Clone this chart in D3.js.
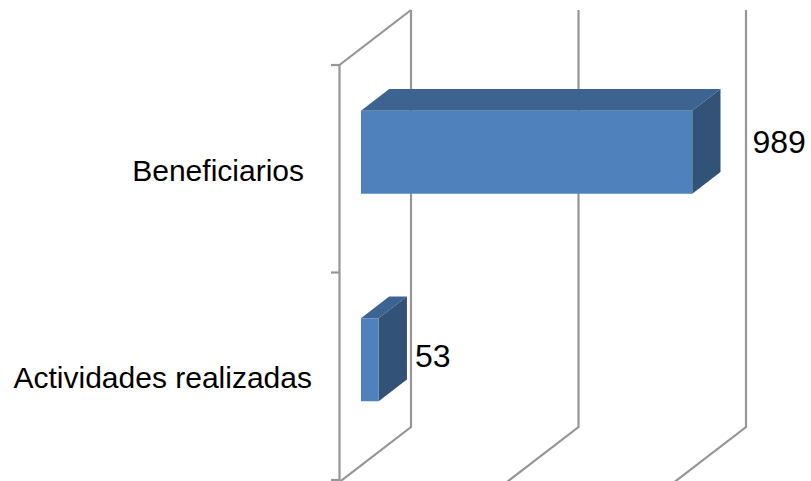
<!DOCTYPE html>
<html><head><meta charset="utf-8">
<script src="https://cdn.jsdelivr.net/npm/d3@7/dist/d3.min.js"></script>
<style>html,body{margin:0;padding:0;background:#fff}svg{display:block}text{font-family:"Liberation Sans",Arial,sans-serif;fill:#000}</style>
</head><body><svg id="c" width="811" height="481"></svg>
<script>
const categories = ["Beneficiarios", "Actividades realizadas"];
const values = [989, 53];
const axisTicks = [0, 500, 1000];
const colFront = "#4f81bd", colTop = "#3d6491", colSide = "#325277", colGrid = "#969696";

const svg = d3.select("#c");
// 3D projection: depth 0 = front plane, 1 = back wall
const depthX = 71.5, depthY = -55;
const x = d3.scaleLinear().domain([0, 1000]).range([339.5, 674.5]);
const y = d3.scaleBand().domain(categories).range([65, 480]).paddingInner(0.6).paddingOuter(0.3);
const px = (v, d) => x(v) + depthX * d;
const py = (yy, d) => yy + depthY * d;
const line = d3.line();
const grid = svg.append("g").attr("fill", "none").attr("stroke", colGrid).attr("stroke-width", 2.2);

const yTop = 65, yBot = 482;
axisTicks.forEach(t => {
  grid.append("path").attr("d", line([[px(t, 1), py(yTop, 1)], [px(t, 1), py(yBot, 1)], [px(t, 0), py(yBot, 0)]]));
});
grid.append("path").attr("d", line([[px(0, 1), py(yTop, 1)], [px(0, 0), py(yTop, 0)], [px(0, 0), py(yBot, 0)]]));
[65, 272.5, 480].forEach(v => {
  grid.append("path").attr("d", line([[331, v], [px(0, 0), v]]));
});

// bars
const d0 = 0.3, d1 = 0.695;
const poly = (pts) => line(pts) + "Z";
const labelDx = [32, 8], labelDy = [0.5, 7];
const bars = svg.append("g").selectAll("g").data(categories.map((c, i) => ({c, v: values[i], i}))).join("g");
bars.each(function(d) {
  const g = d3.select(this);
  const t = y(d.c), b = t + y.bandwidth();
  const x0 = 0, x1 = d.v;
  g.append("path").attr("fill", colTop).attr("d", poly([[px(x0, d0), py(t, d0)], [px(x1, d0), py(t, d0)], [px(x1, d1), py(t, d1)], [px(x0, d1), py(t, d1)]]));
  g.append("path").attr("fill", colSide).attr("d", poly([[px(x1, d0), py(t, d0)], [px(x1, d1), py(t, d1)], [px(x1, d1), py(b, d1)], [px(x1, d0), py(b, d0)]]));
  g.append("rect").attr("fill", colFront).attr("x", px(x0, d0)).attr("y", py(t, d0)).attr("width", px(x1, d0) - px(x0, d0)).attr("height", b - t);
  g.append("text").attr("x", px(x1, d1) + labelDx[d.i]).attr("y", py((t + b) / 2, d0) + labelDy[d.i])
    .attr("font-size", 32).text(d.v);
});

// category labels
svg.append("g").selectAll("text").data(categories).join("text")
  .attr("x", (d, i) => [304, 312][i])
  .attr("y", (d, i) => [181, 388][i])
  .attr("text-anchor", "end").attr("font-size", 30).text(d => d);
</script></body></html>
